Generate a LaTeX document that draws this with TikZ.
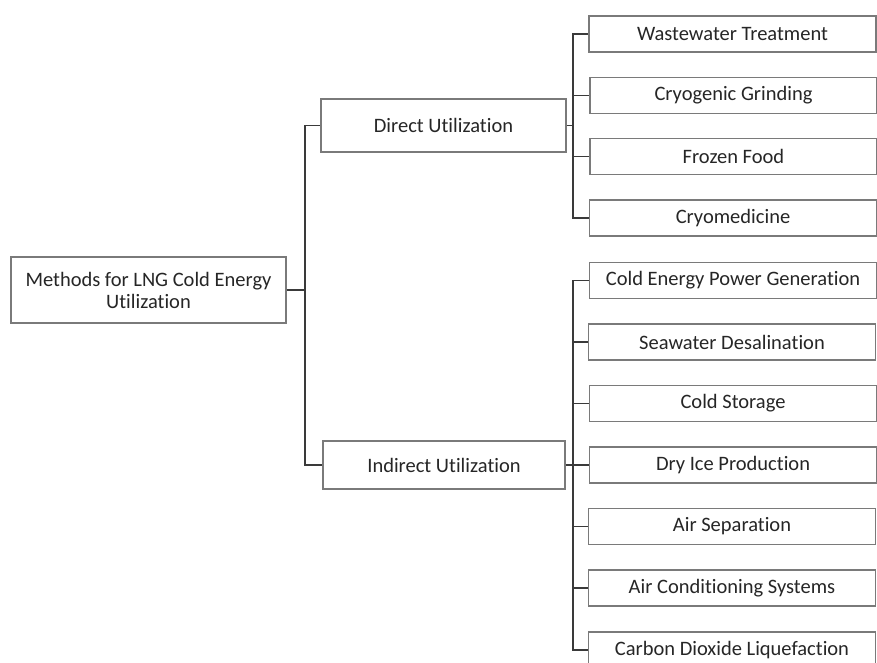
\documentclass[tikz,border=0pt]{standalone}
\usepackage{fontspec}
\setmainfont{Carlito}[Ligatures={NoCommon}]
\definecolor{boxgray}{HTML}{7A7A7A}
\definecolor{linegray}{HTML}{3A3A3A}
\definecolor{txt}{HTML}{262626}
\begin{document}
\begin{tikzpicture}[x=1pt,y=-1pt,
  box/.style={draw=boxgray, line width=1.3pt, fill=white, text=txt, inner sep=0pt,
    font=\fontsize{20.5}{22}\selectfont, align=center},
  leaf/.style={box, minimum width=287pt, minimum height=36pt},
  conn/.style={draw=linegray, line width=1.3pt}]
\useasboundingbox (0,0) rectangle (877,663);
\fill[white] (0,0) rectangle (877,663);

\node[box, minimum width=275pt, minimum height=66pt] (root) at (148.5,290) {Methods for LNG Cold Energy\\Utilization};
\node[box, minimum width=245pt, minimum height=53pt] (direct) at (443.5,125.5) {Direct Utilization};
\node[box, minimum width=242pt, minimum height=48pt] (indirect) at (444,465) {Indirect Utilization};

\node[leaf] (d1) at (732.5,34) {Wastewater Treatment};
\node[leaf] (d2) at (733.5,95.5) {Cryogenic Grinding};
\node[leaf] (d3) at (733.5,156.5) {Frozen Food};
\node[leaf] (d4) at (733,218) {Cryomedicine};

\node[leaf] (i1) at (733,280.5) {Cold Energy Power Generation};
\node[leaf] (i2) at (732,342) {Seawater Desalination};
\node[leaf] (i3) at (733,403.5) {Cold Storage};
\node[leaf] (i4) at (733,465) {Dry Ice Production};
\node[leaf] (i5) at (732,526.5) {Air Separation};
\node[leaf] (i6) at (732,588) {Air Conditioning Systems};
\node[leaf] (i7) at (732,650) {Carbon Dioxide Liquefaction};

\coordinate (rj) at (305,290);
\coordinate (dj) at (573,125.5);
\coordinate (ij) at (573,465);

\draw[conn] (root.east) -- (rj);
\draw[conn] (rj) |- (direct.west);
\draw[conn] (rj) |- (indirect.west);

\draw[conn] (direct.east) -- (dj);
\foreach \n in {d1,d2,d3,d4} \draw[conn] (dj) |- (\n.west);

\draw[conn] (indirect.east) -- (ij);
\foreach \n in {i1,i2,i3,i4,i5,i6,i7} \draw[conn] (ij) |- (\n.west);
\end{tikzpicture}
\end{document}
